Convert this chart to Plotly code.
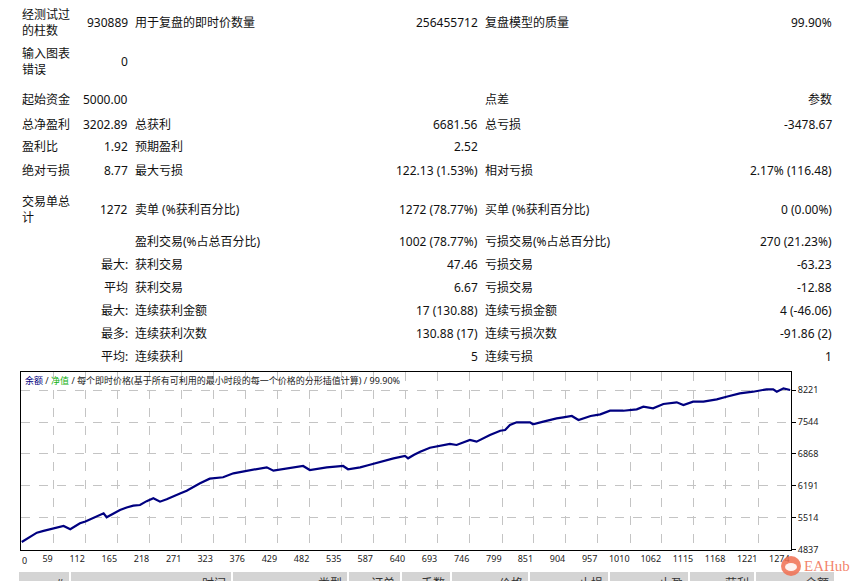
import plotly.graph_objects as go

# ---------------- data ----------------
# balance curve (trade number, balance)
trade_no = [7, 20, 32, 43, 54, 65, 76, 87, 95, 103, 112, 120, 131, 142, 147, 158, 169,
            180, 191, 202, 213, 224, 235, 246, 257, 268, 279, 290, 301, 317, 328, 339,
            356, 372, 389, 400, 411, 422, 433, 444, 458, 471, 482, 496, 510, 524, 537,
            545, 565, 578, 592, 606, 620, 639, 644, 654, 664, 680, 697, 713, 724, 735,
            746, 757, 768, 779, 796, 804, 812, 823, 845, 850, 867, 878, 889, 900, 914,
            925, 935, 945, 961, 977, 999, 1021, 1032, 1048, 1065, 1076, 1087, 1098,
            1114, 1131, 1153, 1169, 1180, 1191, 1213, 1235, 1246, 1252, 1263, 1274]
balance = [5005, 5110, 5203, 5240, 5275, 5300, 5345, 5275, 5340, 5402, 5440, 5486,
           5560, 5613, 5529, 5610, 5683, 5735, 5774, 5789, 5870, 5930, 5859, 5910,
           5964, 6030, 6091, 6170, 6248, 6345, 6360, 6375, 6459, 6493, 6529, 6550,
           6586, 6514, 6540, 6565, 6590, 6614, 6529, 6560, 6586, 6600, 6614, 6544,
           6586, 6630, 6683, 6730, 6776, 6825, 6776, 6850, 6916, 7000, 7040, 7079,
           7058, 7110, 7164, 7128, 7200, 7269, 7360, 7375, 7481, 7538, 7538, 7496,
           7551, 7590, 7622, 7644, 7671, 7587, 7630, 7671, 7707, 7783, 7783, 7813,
           7868, 7834, 7925, 7940, 7961, 7904, 7974, 7974, 8024, 8079, 8110, 8151,
           8185, 8236, 8236, 8185, 8257, 8221]

x_tick_labels = ["59", "112", "165", "218", "271", "323", "376", "429", "482", "535",
                 "587", "640", "693", "746", "799", "851", "904", "957", "1010", "1062",
                 "1115", "1168", "1221", "1274"]
x_first_label = "0"
y_tick_labels = ["4837", "5514", "6191", "6868", "7544", "8221"]

chart_title = ('<span style="color:#000080">余额</span> / '
               '<span style="color:#10b010">净值</span> / '
               '每个即时价格(基于所有可利用的最小时段的每一个价格的分形插值计算) / 99.90%')

# report table
left_labels = ["经测试过<br>的柱数", "输入图表<br>错误", "起始资金", "总净盈利", "盈利比", "绝对亏损",
               "交易单总<br>计", "", "", "", "", "", ""]
left_values = ["930889", "0", "5000.00", "3202.89", "1.92", "8.77", "1272", "",
               "最大:", "平均", "最大:", "最多:", "平均:"]
mid_labels = ["用于复盘的即时价数量", "", "", "总获利", "预期盈利", "最大亏损", "卖单 (%获利百分比)",
              "盈利交易(%占总百分比)", "获利交易", "获利交易", "连续获利金额", "连续获利次数", "连续获利"]
mid_values = ["256455712", "", "", "6681.56", "2.52", "122.13 (1.53%)", "1272 (78.77%)",
              "1002 (78.77%)", "47.46", "6.67", "17 (130.88)", "130.88 (17)", "5"]
right_labels = ["复盘模型的质量", "", "点差", "总亏损", "", "相对亏损", "买单 (%获利百分比)",
                "亏损交易(%占总百分比)", "亏损交易", "亏损交易", "连续亏损金额", "连续亏损次数", "连续亏损"]
right_values = ["99.90%", "", "参数", "-3478.67", "", "2.17% (116.48)", "0 (0.00%)",
                "270 (21.23%)", "-63.23", "-12.88", "4 (-46.06)", "-91.86 (2)", "1"]

header_labels = ["#", "时间", "类型", "订单", "手数", "价格", "止损", "止盈", "获利", "余额"]
watermark = "EAHub"

# ---------------- layout helpers (pixel positions) ----------------
W, H = 852, 581
PL, PR, PT, PB = 21, 791, 372, 550          # plot area in pixels
row_y = [22, 61, 100, 124, 147, 170, 209, 241, 264, 287, 310, 333, 356]
col_left_label_x = 21
col_left_value_x = 129
col_mid_label_x = 134
col_mid_value_x = 479
col_right_label_x = 484
col_right_value_x = 833
header_bounds = [18, 70, 232, 348, 401, 451, 529, 609, 689, 755, 835]


def px(x):
    return (x - PL) / (PR - PL)


def py(y):
    return (PB - y) / (PB - PT)


FONT = "Noto Sans, Noto Sans CJK SC, sans-serif"
TXT = "#111111"

annotations = []
shapes = []


def add_text(text, x, y, anchor, size=12, color=TXT, yanchor="middle", family=FONT):
    if not text:
        return
    annotations.append(dict(text=text, x=px(x), y=py(y), xref="paper", yref="paper",
                            xanchor=anchor, yanchor=yanchor, showarrow=False,
                            font=dict(family=family, size=size, color=color),
                            align="left" if anchor == "left" else "right",
                            borderpad=0))


for i, yy in enumerate(row_y):
    add_text(left_labels[i], col_left_label_x, yy, "left")
    add_text(left_values[i], col_left_value_x, yy, "right")
    add_text(mid_labels[i], col_mid_label_x, yy, "left")
    add_text(mid_values[i], col_mid_value_x, yy, "right")
    add_text(right_labels[i], col_right_label_x, yy, "left")
    add_text(right_values[i], col_right_value_x, yy, "right")

# chart caption
add_text(chart_title, 24, 380, "left", size=9, color="#222222")
# first x label at the left edge
add_text(x_first_label, 21, 553, "left", size=9, color="#222222", yanchor="top")

# trade list header (cut off by the bottom of the window, as in the reference)
for i, lab in enumerate(header_labels):
    x0, x1 = header_bounds[i], header_bounds[i + 1]
    shapes.append(dict(type="rect", xref="paper", yref="paper",
                       x0=px(x0 + 1), x1=px(x1 - 1), y0=py(572), y1=py(600),
                       fillcolor="#d4d4d4", line=dict(width=0), layer="above"))
    add_text(lab, x1 - 5, 574, "right", size=12, color="#333333", yanchor="top")

# watermark
shapes.append(dict(type="circle", xref="paper", yref="paper",
                   x0=px(781), x1=px(801), y0=py(576), y1=py(556),
                   fillcolor="rgba(240,110,80,0.85)", line=dict(width=0), layer="above"))
shapes.append(dict(type="circle", xref="paper", yref="paper",
                   x0=px(785), x1=px(797), y0=py(571), y1=py(563),
                   fillcolor="rgba(255,255,255,0.9)", line=dict(width=0), layer="above"))
add_text(watermark, 803, 566, "left", size=15,
         color="rgba(240,110,80,0.85)", family="Liberation Serif, DejaVu Serif, serif")

fig = go.Figure()
fig.add_trace(go.Scatter(x=trade_no, y=balance, mode="lines",
                         line=dict(color="#000080", width=2.2), hoverinfo="skip"))

x_vals = [float(v) for v in x_tick_labels]
y_vals = [float(v) for v in y_tick_labels]

fig.update_layout(
    width=W, height=H,
    margin=dict(l=PL, r=W - PR, t=PT, b=H - PB, pad=0),
    paper_bgcolor="white", plot_bgcolor="white",
    showlegend=False,
    annotations=annotations,
    shapes=shapes,
    font=dict(family=FONT, color=TXT),
)
fig.update_xaxes(range=[5.8, 1275.4], tickvals=x_vals, ticktext=x_tick_labels,
                 showgrid=True, gridcolor="#c4c4c4", griddash="dash", gridwidth=1,
                 showline=True, linecolor="black", linewidth=1, mirror=True,
                 zeroline=False, ticks="", ticklabelposition="outside left",
                 tickfont=dict(size=9, color="#222222", family=FONT))
fig.update_yaxes(range=[4836.5, 8602], tickvals=y_vals, ticktext=y_tick_labels,
                 side="right", showgrid=True, gridcolor="#c4c4c4", griddash="dash",
                 gridwidth=1, showline=True, linecolor="black", linewidth=1, mirror=True,
                 zeroline=False, ticks="outside", ticklen=4, tickcolor="black",
                 tickfont=dict(size=9, color="#222222", family=FONT))

fig.write_html("out.html", config={"displayModeBar": False},
               post_script="document.body.style.margin='0';document.body.style.overflow='hidden';")
